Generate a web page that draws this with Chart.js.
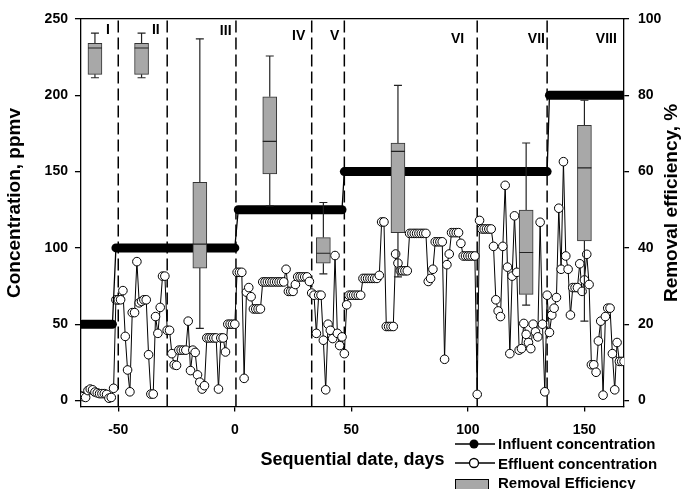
<!DOCTYPE html>
<html>
<head>
<meta charset="utf-8">
<script src="https://cdn.jsdelivr.net/npm/chart.js@4.4.1/dist/chart.umd.min.js"></script>
<style>
  html, body { margin: 0; padding: 0; background: #fff; }
  #wrap { width: 681px; height: 489px; position: relative; }
</style>
</head>
<body>
<div id="wrap"><canvas id="chart"></canvas></div>
<script>
/* Influent / effluent concentration and removal efficiency by phase */

const FONT = "'Liberation Sans', Arial, Helvetica, sans-serif";

const xTicks = [-50, 0, 50, 100, 150];
const yTicks = [0, 50, 100, 150, 200, 250];
const y2Ticks = [0, 20, 40, 60, 80, 100];

// phase boundaries (dashed lines) and the roman numeral labels
const phaseBounds = [-50, -29, 0.5, 33, 47, 104, 134];
const phaseNames = ['I', 'II', 'III', 'IV', 'V', 'VI', 'VII', 'VIII'];
const phaseLabelDay = [-54.4, -33.9, -3.9, 27.4, 42.9, 95.6, 129.4, 159.4];
const phaseLabelConc = [243, 243, 242, 239, 239, 237, 237, 237];

// influent concentration, ppmv (step ends)
const influentDay = [-65.5, -52.5, -51, 0, 1.5, 46, 47, 134, 135, 166.5];
const influentConc = [50, 50, 100, 100, 125, 125, 150, 150, 200, 200];

// effluent concentration, ppmv
const effluentDay = [
  -66, -65, -64, -63, -62, -61, -60, -59, -58, -57, -56, -55, -54, -53, -52,
  -51, -50, -49, -48, -47, -46, -45, -44, -43, -42, -41, -40, -39, -38, -37, -36, -35, -34, -33, -32, -31, -30, -29, -28,
  -27, -26, -25, -24, -23, -22, -21, -20, -19, -18, -17, -16, -15, -14, -13, -12, -11, -10, -9, -8, -7, -6, -5, -4, -3, -2, -1, 0,
  1, 2, 3, 4, 5, 6, 7, 8, 9, 10, 11, 12, 13, 14, 15, 16, 17, 18, 19, 20, 21, 22, 23, 24, 25, 26, 27, 28, 29, 30, 31, 32,
  33, 34, 35, 36, 37, 38, 39, 40, 41, 42, 43, 44, 45, 46, 47,
  48, 49, 50, 51, 52, 53, 54, 55, 56, 57, 58, 59, 60, 61, 62, 63, 64, 65, 66, 67, 68, 69, 70, 71, 72, 73, 74, 75,
  76, 77, 78, 79, 80, 81, 82, 83, 84, 85, 86, 87, 88, 89, 90, 91, 92, 93, 94, 95, 96, 97, 98, 99, 100, 101, 102, 103,
  104, 105, 106, 107, 108, 109, 110, 111, 112, 113, 114, 115, 116, 117, 118, 119, 120, 121, 122, 123, 124, 125, 126,
  127, 128, 129, 130, 131, 132, 133, 134,
  135, 136, 137, 138, 139, 140, 141, 142, 143, 144, 145, 146, 147, 148, 149, 150, 151, 152, 153, 154, 155, 156, 157,
  158, 159, 160, 161, 162, 163, 164, 165, 166, 167
];
const effluentConc = [
  3, 2.5, 2, 6.5, 7.5, 7, 5.5, 5, 4.5, 4.5, 4.5, 4, 1.5, 2, 8,
  66, 66, 66, 72, 42, 20, 5.7, 57.6, 57.6, 91, 64, 65, 66, 66, 30, 4.2, 4.2, 55, 44, 61, 81.5, 81.5, 46, 46,
  30.7, 23.4, 23, 33, 33, 33, 33, 52, 19.6, 33, 31.5, 16.8, 12, 7.5, 9.7, 41, 41, 41, 41, 41, 7.5, 41, 41, 31.8, 50, 50, 50, 50,
  84, 84, 84, 14.5, 71, 74, 68, 60, 60, 60, 60, 77.7, 77.7, 77.7, 77.7, 77.7, 77.7, 77.7, 77.7, 77.7, 77.7, 86, 71.5, 71.5, 71.5, 76, 81, 81, 81, 81, 81, 78,
  70.4, 69, 44, 69, 69, 39.5, 7, 50, 46, 40.6, 95, 44, 36, 41.7, 30.7,
  62.7, 69, 69, 69, 69, 69, 69, 80, 80, 80, 80, 80, 80, 80, 82, 117, 117, 48.5, 48.5, 48.5, 48.5, 96, 90, 85, 85, 85, 85, 109.5,
  109.5, 109.5, 109.5, 109.5, 109.5, 109.5, 109.5, 78, 80, 86, 104, 104, 104, 104, 27, 89, 96, 110, 110, 110, 110, 103, 94.7, 94.7, 94.7, 94.7, 94.7, 94.7,
  4, 118, 112.4, 112.4, 112.4, 112.4, 112.4, 101, 66, 58.7, 55, 101, 141, 87.4, 30.7, 81.5, 121, 84, 33, 34, 50.5, 43.3, 38,
  34, 50, 45, 41.7, 116.8, 50, 5.7, 69,
  44.6, 56, 60.5, 67.5, 126, 86, 156.5, 94.7, 86, 56, 74, 74, 74, 89.6, 71.5, 79, 95.8, 76, 23.4, 23.4, 18.5, 39, 52,
  3.5, 55, 60.5, 60.5, 30.7, 7, 38, 25.6, 25.6, 25.6
];

// removal efficiency box plots, % (one per phase)
const boxX = [-60, -40, -15, 15, 38, 70, 125, 150];
const boxMin = [84.6, 84.6, 18.9, 51, 33.2, 32.4, 25, 20.8];
const boxQ1 = [85.5, 85.5, 34.7, 59.4, 36, 44, 27.8, 41.8];
const boxMed = [92.4, 92.4, 41, 67.9, 38.6, 65.3, 38.8, 61];
const boxQ3 = [93.6, 93.6, 57.2, 79.6, 42.7, 67.5, 49.9, 72.1];
const boxMax = [96.3, 96.3, 94.8, 90.3, 51.9, 82.6, 67.5, 78.7];

const legendLabels = ['Influent concentration', 'Effluent concentration', 'Removal Efficiency'];
const xTitle = 'Sequential date, days';
const yTitle = 'Concentration, ppmv';
const y2Title = 'Removal efficiency, %';

const BOX_GREY = '#a8a8a8';

Chart.defaults.font.family = FONT;
Chart.defaults.color = '#000';

const phaseLabelPlugin = {
  id: 'phaseLabels',
  afterDatasetsDraw(chart) {
    const { ctx, scales } = chart;
    ctx.save();
    ctx.font = 'bold 14px ' + FONT;
    ctx.fillStyle = '#000';
    ctx.textAlign = 'center';
    ctx.textBaseline = 'middle';
    phaseNames.forEach((name, i) => {
      ctx.fillText(name, scales.x.getPixelForValue(phaseLabelDay[i]), scales.y.getPixelForValue(phaseLabelConc[i]));
    });
    ctx.restore();
  }
};

const titleLegendPlugin = {
  id: 'titlesAndLegend',
  afterDraw(chart) {
    const ctx = chart.ctx;
    ctx.save();
    ctx.fillStyle = '#000';
    ctx.strokeStyle = '#000';

    // rotated axis titles, both read bottom to top
    ctx.font = 'bold 19px ' + FONT;
    ctx.textAlign = 'center';
    ctx.textBaseline = 'middle';
    [[yTitle, 15, 203], [y2Title, 672, 203]].forEach(([t, x, y]) => {
      ctx.save();
      ctx.translate(x, y);
      ctx.rotate(-Math.PI / 2);
      ctx.fillText(t, 0, 0);
      ctx.restore();
    });

    // legend
    const x0 = 455, x1 = 495, mx = 474, tx = 498;
    ctx.lineWidth = 1.3;
    ctx.beginPath(); ctx.moveTo(x0, 444); ctx.lineTo(x1, 444); ctx.stroke();
    ctx.beginPath(); ctx.arc(mx, 444, 4.5, 0, Math.PI * 2); ctx.fill();
    ctx.beginPath(); ctx.moveTo(x0, 463); ctx.lineTo(x1, 463); ctx.stroke();
    ctx.beginPath(); ctx.arc(mx, 463, 4.5, 0, Math.PI * 2);
    ctx.fillStyle = '#fff'; ctx.fill(); ctx.stroke();
    ctx.fillStyle = BOX_GREY;
    ctx.fillRect(455, 479, 34, 12);
    ctx.lineWidth = 1;
    ctx.strokeRect(455.5, 479.5, 33, 12);

    ctx.fillStyle = '#000';
    ctx.font = 'bold 15px ' + FONT;
    ctx.textAlign = 'left';
    ctx.textBaseline = 'alphabetic';
    ctx.fillText(legendLabels[0], tx, 449);
    ctx.fillText(legendLabels[1], tx, 468.5);
    ctx.fillText(legendLabels[2], tx, 488);
    ctx.restore();
  }
};

const tickFont = { size: 14, weight: 'bold' };
const axisGrid = (len) => ({ display: true, drawOnChartArea: false, drawTicks: true, tickLength: len, color: '#000', lineWidth: 1.3, offset: false });
const axisBorder = { display: true, color: '#000', width: 1.3 };

const nullPt = (x) => ({ x: x, y: null });

new Chart(document.getElementById('chart'), {
  type: 'scatter',
  data: {
    datasets: [
      {
        // medians
        type: 'line', yAxisID: 'y2', showLine: false,
        data: boxX.map((x, i) => ({ x: x, y: boxMed[i] })),
        pointStyle: 'line', pointRadius: 7, pointBorderWidth: 1.2, pointBorderColor: '#222'
      },
      {
        // boxes
        type: 'bar', yAxisID: 'y2',
        data: boxX.map((x, i) => ({ x: x, y: [boxQ1[i], boxQ3[i]] })),
        backgroundColor: BOX_GREY, borderColor: '#333', borderWidth: 1, borderSkipped: false,
        barThickness: 14
      },
      {
        // whisker caps
        type: 'line', yAxisID: 'y2', showLine: false,
        data: boxX.flatMap((x, i) => [{ x: x, y: boxMax[i] }, { x: x, y: boxMin[i] }]),
        pointStyle: 'line', pointRadius: 4, pointBorderWidth: 1.2, pointBorderColor: '#222'
      },
      {
        // whiskers
        type: 'line', yAxisID: 'y2', spanGaps: false,
        data: boxX.flatMap((x, i) => [{ x: x, y: boxQ3[i] }, { x: x, y: boxMax[i] }, nullPt(x),
                                      { x: x, y: boxQ1[i] }, { x: x, y: boxMin[i] }, nullPt(x)]),
        borderColor: '#222', borderWidth: 1.2, pointRadius: 0
      },
      {
        label: legendLabels[0],
        type: 'line', yAxisID: 'y',
        data: influentDay.map((d, i) => ({ x: d, y: influentConc[i] })),
        borderColor: '#000', borderCapStyle: 'round', borderWidth: 9, pointRadius: 0,
        segment: { borderWidth: c => (c.p0.parsed.y === c.p1.parsed.y ? 9 : 1.3) }
      },
      {
        label: legendLabels[1],
        type: 'line', yAxisID: 'y',
        data: effluentDay.map((d, i) => ({ x: d, y: effluentConc[i] })),
        borderColor: '#000', borderWidth: 1, tension: 0,
        pointRadius: 4.3, pointBackgroundColor: '#fff', pointBorderColor: '#000', pointBorderWidth: 1
      },
      {
        // phase boundaries
        type: 'line', yAxisID: 'y', spanGaps: false,
        data: phaseBounds.flatMap(d => [{ x: d, y: -4 }, { x: d, y: 250 }, nullPt(d)]),
        borderColor: '#000', borderWidth: 1.5, borderDash: [12, 5], pointRadius: 0
      }
    ]
  },
  options: {
    responsive: true,
    maintainAspectRatio: false,
    animation: false,
    events: [],
    layout: { padding: { top: 19, left: 37.6, right: 10.6, bottom: 0 } },
    plugins: { legend: { display: false }, tooltip: { enabled: false } },
    scales: {
      x: {
        type: 'linear', position: 'bottom', min: -66, max: 167, offset: false,
        afterBuildTicks: s => { s.ticks = xTicks.map(v => ({ value: v })); },
        grid: axisGrid(5), border: axisBorder,
        ticks: { font: tickFont, padding: 10.5, maxRotation: 0, autoSkip: false },
        title: { display: true, text: xTitle, font: { size: 18, weight: 'bold' }, padding: { top: 0, bottom: 18 } }
      },
      x2: {
        type: 'linear', position: 'top', min: -66, max: 167,
        ticks: { display: false }, grid: { display: false, drawTicks: false }, border: axisBorder
      },
      y: {
        type: 'linear', position: 'left', min: -4, max: 250,
        afterBuildTicks: s => { s.ticks = yTicks.map(v => ({ value: v })); },
        grid: axisGrid(6), border: axisBorder,
        ticks: { font: tickFont, padding: 7 }
      },
      y2: {
        type: 'linear', position: 'right', min: -1.6, max: 100,
        afterBuildTicks: s => { s.ticks = y2Ticks.map(v => ({ value: v })); },
        grid: axisGrid(5), border: axisBorder,
        ticks: { font: tickFont, padding: 9 }
      }
    }
  },
  plugins: [phaseLabelPlugin, titleLegendPlugin]
});
</script>
</body>
</html>
